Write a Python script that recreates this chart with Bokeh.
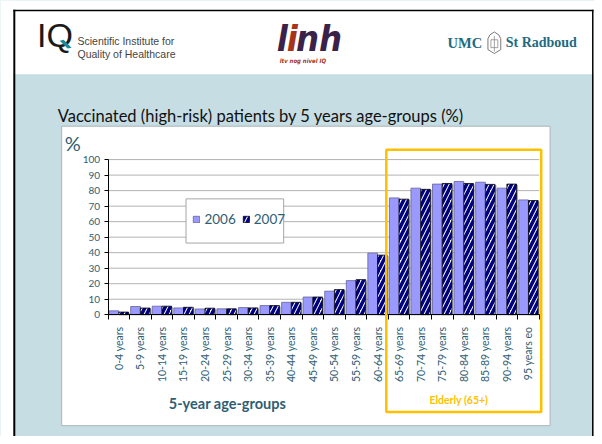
import math
from bokeh.plotting import figure
from bokeh.models import (BoxAnnotation, Label, FixedTicker, PolyAnnotation, Range1d)
from bokeh.embed import file_html
from bokeh.resources import INLINE

# ---------------- data ----------------
categories = ["0-4 years", "5-9 years", "10-14 years", "15-19 years", "20-24 years",
              "25-29 years", "30-34 years", "35-39 years", "40-44 years", "45-49 years",
              "50-54 years", "55-59 years", "60-64 years", "65-69 years", "70-74 years",
              "75-79 years", "80-84 years", "85-89 years", "90-94 years", "95 years eo"]
v2006 = [2.5, 5.3, 5.5, 4.4, 3.7, 3.8, 4.6, 5.9, 8.0, 11.4, 15.2, 22.0, 39.7,
         75.3, 81.6, 84.2, 85.9, 85.4, 81.6, 74.0]
v2007 = [1.7, 4.3, 5.5, 4.8, 4.2, 3.8, 4.4, 5.9, 8.0, 11.4, 16.2, 22.6, 38.4,
         74.5, 80.8, 84.6, 84.6, 84.0, 84.2, 73.6]
series_names = ["2006", "2007"]
y_ticks = list(range(0, 101, 10))

TEAL = "#2e5e74"
BG = "#c6dde3"

W, H = 594, 436
SX, SY = W / 602.0, H / 444.0


def cx(v):
    return v * SX


def cy(v):
    return v * SY


# plot-area placement on the canvas (pixels, from reference layout)
PL, PR, PT, PB = cx(109), cx(546), cy(162), cy(320)
n = len(categories)
ppx = (PR - PL) / n
ppy = (PB - PT) / 100.0
x_range = Range1d(-PL / ppx, n + (W - PR) / ppx)
y_range = Range1d(-(H - PB) / ppy, 100 + PT / ppy)

p = figure(width=W, height=H, x_range=x_range, y_range=y_range,
           output_backend="svg", toolbar_location=None, min_border=0)
p.background_fill_color = BG
p.border_fill_color = BG
p.outline_line_color = None
p.grid.visible = False


def cbox(l, t, r, b, fill=None, line=None, lw=1, level="image"):
    box = BoxAnnotation(left=cx(l), right=cx(r), top=cy(t), bottom=cy(b),
                        left_units="canvas", right_units="canvas",
                        top_units="canvas", bottom_units="canvas",
                        fill_color=fill if fill else "white", fill_alpha=1 if fill else 0,
                        line_color=line if line else "black", line_width=lw,
                        line_alpha=1 if line else 0, level=level)
    p.add_layout(box)


def clabel(x, y, text, size, color, font="Lato", style="normal", align="left"):
    p.add_layout(Label(x=cx(x), y=cy(y), x_units="canvas", y_units="canvas", text=text,
                       text_font=font, text_font_size=size, text_color=color,
                       text_font_style=style, text_align=align, text_baseline="middle"))


def cpoly(xs, ys, fill=None, line=None, lw=1):
    p.add_layout(PolyAnnotation(xs=[cx(v) for v in xs], ys=[cy(v) for v in ys],
                                xs_units="canvas", ys_units="canvas",
                                fill_color=fill if fill else "white", fill_alpha=1 if fill else 0,
                                line_color=line if line else "black", line_alpha=1 if line else 0,
                                line_width=lw, level="annotation"))

# slide background pieces (reference pixel coordinates)
cbox(0, 0, 602, 75, fill="white")
cbox(0, 0, 13, 444, fill="white")
cbox(601, 0, 602, 444, fill="white")
cbox(13, 9.5, 601, 11, fill="black")
cbox(13, 9.5, 15, 444, fill="black")
cbox(599.5, 9.5, 601, 444, fill="black")
cbox(62, 128, 557, 433, fill="white", line="#a9b4b8", lw=1)

# header: IQ logo
clabel(37, 35, "IQ", "34px", "#1a1a1a", font="Liberation Sans")
cpoly([60, 64, 72, 68], [41, 40, 48, 49], fill="#1b8a9c")
clabel(78, 41, "Scientific Institute for", "10.5px", "#444444", font="Liberation Sans")
clabel(78, 54, "Quality of Healthcare", "10.5px", "#444444", font="Liberation Sans")
# linh logo
clabel(280, 39, "l", "36px", "#3a2248", font="DejaVu Sans Condensed", style="bold italic")
clabel(290, 39, "i", "36px", "#a8331c", font="DejaVu Sans Condensed", style="bold italic")
clabel(299.5, 39, "nh", "36px", "#3a2248", font="DejaVu Sans Condensed", style="bold italic")
clabel(283, 61, "ltv nog nivel IQ", "6px", "#a8331c", font="DejaVu Sans Condensed", style="bold italic")
# UMC St Radboud
clabel(453, 43, "UMC", "14.5px", "#1e6a80", font="Liberation Serif", style="bold")
clabel(512, 43, "St Radboud", "14px", "#1e6a80", font="Liberation Serif", style="bold")
cpoly([494, 494, 496, 500.5, 505, 507, 507, 500.5],
      [50, 39, 35, 32, 35, 39, 50, 54], line="#7a7a7a", lw=1)
cpoly([497, 504, 504, 497], [40, 40, 48, 48], line="#8a8a8a", lw=0.8)
cpoly([500.5, 500.5], [36, 52], line="#8a8a8a", lw=0.8)

# title and chart texts
clabel(58, 118, "Vaccinated (high-risk) patients by 5 years age-groups (%)", "16.5px", "#111111")
clabel(65, 145, "%", "20px", TEAL)
clabel(230, 410, "5-year age-groups", "14.5px", TEAL, style="bold", align="center")
clabel(464.5, 407, "Elderly (65+)", "10.5px", "#ffc000", style="bold", align="center")

# grid lines from the tick list
p.segment(x0=[0] * (len(y_ticks) - 1), x1=[n] * (len(y_ticks) - 1), y0=y_ticks[1:], y1=y_ticks[1:],
          line_color="#b2b2b2", line_width=1)

# bars (with soft Excel-like shadow)
bw = 0.45
x06 = [i + 0.275 for i in range(n)]
x07 = [i + 0.725 for i in range(n)]
sh = 0.07
p.vbar(x=[v + sh for v in x07], top=[max(v - 0.6, 0) for v in v2007], width=bw,
       fill_color="#808080", fill_alpha=0.55, line_color=None)
p.vbar(x=x06, top=v2006, width=bw, fill_color="#9999ff", line_color="#62629a",
       line_width=0.8, legend_label=series_names[0])
p.vbar(x=x07, top=v2007, width=bw, fill_color="white", line_color="#000000",
       line_width=0.8, hatch_pattern="/", hatch_color="#000080", hatch_scale=10,
       hatch_weight=3.5, legend_label=series_names[1])

# orange "elderly" box
cbox(391, 152, 548, 419, line="#ffc000", lw=2.5, level="overlay")

# legend frame
cbox(188, 202, 287, 247, fill="white", line="#a6a6a6", lw=1, level="overlay")
leg = p.legend[0]
leg.location = (cx(195), H - cy(224.5) - 7)
leg.orientation = "horizontal"
leg.border_line_color = None
leg.background_fill_alpha = 0
leg.padding = 0
leg.margin = 0
leg.spacing = 6
leg.glyph_width = 8
leg.glyph_height = 8
leg.label_standoff = 4
leg.label_height = 14
leg.label_text_font = "Lato"
leg.label_text_font_size = "13.5px"
leg.label_text_color = TEAL
leg.level = "overlay"

# axes (pinned inside the canvas at the data origin)
ya = p.yaxis[0]
ya.fixed_location = 0
ya.bounds = (0, 100)
ya.ticker = FixedTicker(ticks=y_ticks)
ya.axis_line_color = "black"
ya.major_tick_line_color = "black"
ya.major_tick_out = 4
ya.major_tick_in = 0
ya.minor_tick_line_color = None
ya.major_label_standoff = 4
ya.major_label_text_font = "Lato"
ya.major_label_text_font_size = "10px"
ya.major_label_text_color = TEAL

xa = p.xaxis[0]
xa.fixed_location = 0
xa.bounds = (0, n)
xa.ticker = FixedTicker(ticks=[i + 0.5 for i in range(n)], minor_ticks=list(range(n + 1)))
xa.major_label_overrides = {i + 0.5: c for i, c in enumerate(categories)}
xa.major_label_orientation = math.pi / 2
xa.axis_line_color = "black"
xa.major_tick_out = 0
xa.major_tick_in = 0
xa.minor_tick_out = 5
xa.minor_tick_in = 0
xa.minor_tick_line_color = "black"
xa.major_label_standoff = 7
xa.major_label_text_font = "Lato"
xa.major_label_text_font_size = "10.5px"
xa.major_label_text_color = TEAL

open("out.html", "w").write(file_html(p, INLINE))
